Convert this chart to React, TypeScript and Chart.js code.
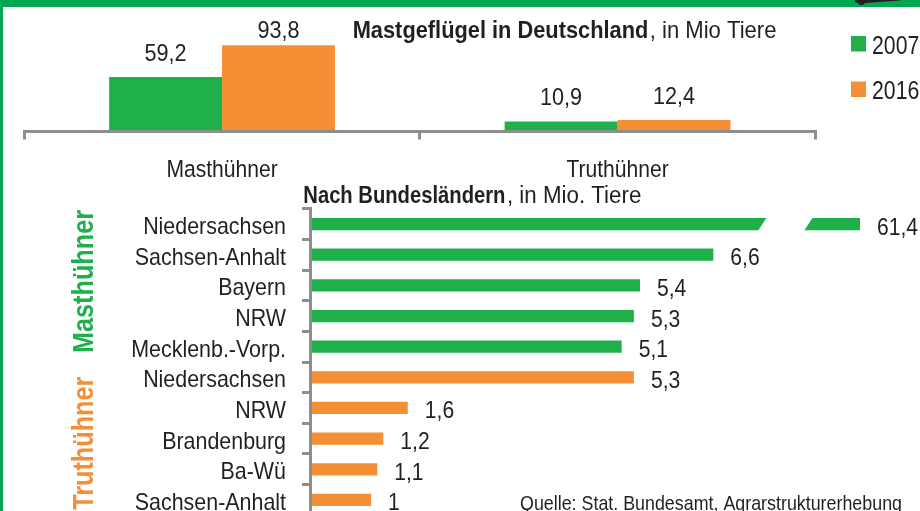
import React, { useEffect, useRef } from 'react';
import { Chart, registerables } from 'chart.js';

Chart.register(...registerables);

const FONT = '"Liberation Sans", Arial, sans-serif';
const TEXT = '#231f20';
const GREEN = '#20b04b';
const ORANGE = '#f58f36';
const AXIS = '#8e8e8e';
const FRAME = '#00a651';

// Mastgeflügel in Deutschland (Mio Tiere)
const poultryTypes = ['Masthühner', 'Truthühner'];
const yearLabels = ['2007', '2016'];
const values2007 = [59.2, 10.9];
const values2016 = [93.8, 12.4];
const topAxisMax = 110.5;

// Nach Bundesländern (Mio. Tiere)
const mastStates = ['Niedersachsen', 'Sachsen-Anhalt', 'Bayern', 'NRW', 'Mecklenb.-Vorp.'];
const mastValues = [61.4, 6.6, 5.4, 5.3, 5.1];
const truthStates = ['Niedersachsen', 'NRW', 'Brandenburg', 'Ba-Wü', 'Sachsen-Anhalt'];
const truthValues = [5.3, 1.6, 1.2, 1.1, 1];
const stateAxisMax = 9;

const fmt = (v: number) => String(v).replace('.', ',');

type TextOpts = { bold?: boolean; align?: CanvasTextAlign; color?: string; sx?: number };

function drawText(ctx: CanvasRenderingContext2D, text: string, x: number, y: number, size: number, o: TextOpts = {}) {
  const sx = o.sx ?? 0.88;
  ctx.save();
  ctx.font = `${o.bold ? 'bold ' : ''}${size}px ${FONT}`;
  ctx.fillStyle = o.color ?? TEXT;
  ctx.textAlign = o.align ?? 'left';
  ctx.textBaseline = 'alphabetic';
  ctx.translate(x, y);
  ctx.scale(sx, 1);
  ctx.fillText(text, 0, 0);
  const w = ctx.measureText(text).width * sx;
  ctx.restore();
  return w;
}

const topPlugin = {
  id: 'topDecor',
  afterDatasetsDraw(chart: any) {
    const ctx = chart.ctx as CanvasRenderingContext2D;
    // value labels
    chart.data.datasets.forEach((ds: any, di: number) => {
      const meta = chart.getDatasetMeta(di);
      meta.data.forEach((el: any, i: number) => {
        const y = Math.max(el.y - 16, 37.5);
        drawText(ctx, fmt(ds.data[i]), el.x, y, 24, { align: 'center', sx: 0.9 });
      });
    });
    // category labels
    const xs = chart.scales.x;
    chart.data.labels.forEach((lab: string, i: number) => {
      drawText(ctx, lab, xs.getPixelForValue(i), 176.7, 24.5, { align: 'center', sx: 0.86 });
    });
    // title
    const w = drawText(ctx, 'Mastgeflügel in Deutschland', 352.7, 37.7, 24.5, { bold: true, sx: 0.89 });
    drawText(ctx, ', in Mio Tiere', 352.7 + w + 1.5, 37.7, 24.5, { sx: 0.9 });
    // legend
    chart.data.datasets.forEach((ds: any, di: number) => {
      ctx.fillStyle = ds.backgroundColor;
      ctx.fillRect(851, 36 + di * 45.5, 15, 15.5);
      drawText(ctx, ds.label, 872, 53.5 + di * 45.5, 25, { sx: 0.85 });
    });
  },
};

const bottomPlugin = {
  id: 'bottomDecor',
  afterDatasetsDraw(chart: any) {
    const ctx = chart.ctx as CanvasRenderingContext2D;
    const area = chart.chartArea;
    const meta = chart.getDatasetMeta(0);
    const data = chart.data.datasets[0].data as number[];
    const xMax = chart.scales.x.max;
    const ys = chart.scales.y;
    ctx.save();
    // broken bar marker
    meta.data.forEach((el: any, i: number) => {
      if (data[i] > xMax) {
        const cy = el.y;
        const h = 8;
        const s = 0.65;
        const cl = area.right - 97.5;
        const cr = area.right - 51.5;
        ctx.fillStyle = '#ffffff';
        ctx.beginPath();
        ctx.moveTo(cl + s * h, cy - h);
        ctx.lineTo(cr + s * h, cy - h);
        ctx.lineTo(cr - s * h, cy + h);
        ctx.lineTo(cl - s * h, cy + h);
        ctx.closePath();
        ctx.fill();
      }
    });
    ctx.restore();
    // value labels
    meta.data.forEach((el: any, i: number) => {
      const x = Math.min(el.x, area.right) + 17;
      drawText(ctx, fmt(data[i]), x, el.y + 10.5, 24, { sx: 0.88 });
    });
    // category labels
    chart.data.labels.forEach((lab: string, i: number) => {
      drawText(ctx, lab, 286, ys.getPixelForValue(i) + 10, 23.8, { align: 'right', sx: 0.9 });
    });
    // title
    const w = drawText(ctx, 'Nach Bundesländern', 303.3, 203.3, 23.5, { bold: true, sx: 0.86 });
    drawText(ctx, ', in Mio. Tiere', 303.3 + w + 1.5, 203.3, 23.5, { sx: 0.95 });
    // group labels
    ctx.save();
    ctx.translate(93.3, 281.5);
    ctx.rotate(-Math.PI / 2);
    drawText(ctx, 'Masthühner', 0, 0, 29, { bold: true, align: 'center', color: GREEN, sx: 0.87 });
    ctx.restore();
    ctx.save();
    ctx.translate(93.3, 376.7);
    ctx.rotate(-Math.PI / 2);
    drawText(ctx, 'Truthühner', 0, 0, 29, { bold: true, align: 'right', color: ORANGE, sx: 0.87 });
    ctx.restore();
    // source
    drawText(ctx, 'Quelle: Stat. Bundesamt, Agrarstrukturerhebung', 520, 509.5, 21, { sx: 0.85 });
  },
};

export default function App() {
  const topRef = useRef<HTMLCanvasElement>(null);
  const bottomRef = useRef<HTMLCanvasElement>(null);

  useEffect(() => {
    const topChart = new Chart(topRef.current!, {
      type: 'bar',
      data: {
        labels: poultryTypes,
        datasets: [
          { label: yearLabels[0], data: values2007, backgroundColor: GREEN, borderWidth: 0 },
          { label: yearLabels[1], data: values2016, backgroundColor: ORANGE, borderWidth: 0 },
        ],
      },
      options: {
        responsive: false,
        animation: false,
        events: [],
        layout: { padding: { left: 24.3, right: 104.7, top: 30, bottom: 8.5 } },
        datasets: { bar: { categoryPercentage: 0.571, barPercentage: 1 } },
        plugins: { legend: { display: false }, tooltip: { enabled: false }, title: { display: false } },
        scales: {
          x: {
            afterFit: (s: any) => { s.height = 50; },
            grid: { drawOnChartArea: false, drawTicks: true, tickLength: 8, color: AXIS, lineWidth: 3, z: 1 },
            border: { display: true, color: AXIS, width: 3, z: 1 },
            ticks: { display: false },
          },
          y: { display: false, min: 0, max: topAxisMax },
        },
      },
      plugins: [topPlugin],
    } as any);

    const bottomChart = new Chart(bottomRef.current!, {
      type: 'bar',
      data: {
        labels: [...mastStates, ...truthStates],
        datasets: [
          {
            label: 'Mio. Tiere',
            data: [...mastValues, ...truthValues],
            backgroundColor: [...mastValues.map(() => GREEN), ...truthValues.map(() => ORANGE)],
            borderWidth: 0,
            clip: 0,
          },
        ],
      },
      options: {
        indexAxis: 'y',
        responsive: false,
        animation: false,
        events: [],
        layout: { padding: { left: 0, right: 60, top: 208.7, bottom: 24.7 } },
        datasets: { bar: { categoryPercentage: 1, barPercentage: 0.4 } },
        plugins: { legend: { display: false }, tooltip: { enabled: false } },
        scales: {
          x: { display: false, min: 0, max: stateAxisMax },
          y: {
            afterFit: (s: any) => { s.width = 310; },
            grid: { drawOnChartArea: false, drawTicks: true, tickLength: 8, color: AXIS, lineWidth: 3, z: 1 },
            border: { display: true, color: AXIS, width: 3, z: 1 },
            ticks: { display: false, autoSkip: false },
          },
        },
      },
      plugins: [bottomPlugin],
    } as any);

    return () => {
      topChart.destroy();
      bottomChart.destroy();
    };
  }, []);

  return (
    <div style={{ position: 'fixed', left: 0, top: 0, width: 920, height: 511, overflow: 'hidden', background: '#ffffff' }}>
      <canvas ref={topRef} width={920} height={190} style={{ position: 'absolute', left: 0, top: 0 }} />
      <canvas ref={bottomRef} width={920} height={540} style={{ position: 'absolute', left: 0, top: 0 }} />
      <div style={{ position: 'absolute', left: 0, top: 0, width: 920, height: 7, background: FRAME }} />
      <div style={{ position: 'absolute', left: 0, top: 0, width: 3, height: 511, background: FRAME }} />
      <div
        style={{
          position: 'absolute',
          left: 855,
          top: 0,
          width: 45,
          height: 6,
          background: TEXT,
          clipPath: 'polygon(0px 0px, 45px 0px, 45px 0.5px, 10px 3px, 8px 5px, 5px 5px, 3px 3px, 0px 2px)',
        }}
      />
    </div>
  );
}
